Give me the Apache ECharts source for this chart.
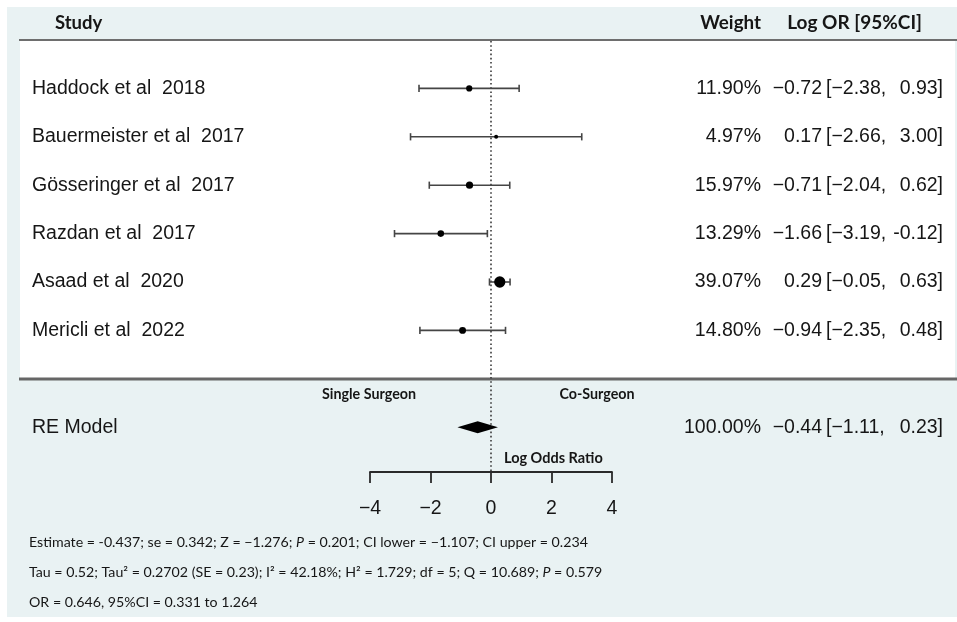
<!DOCTYPE html>
<html>
<head>
<meta charset="utf-8">
<script src="https://cdn.jsdelivr.net/npm/echarts@6/dist/echarts.min.js"></script>
<style>
  html, body { margin: 0; padding: 0; background: #ffffff; }
  #chart { width: 957px; height: 622px; }
</style>
</head>
<body>
<div id="chart"></div>
<script>
// Study-level results (log odds ratio, 95% CI, random-effects weight)
const studies = [
  'Haddock et al  2018',
  'Bauermeister et al  2017',
  'Gösseringer et al  2017',
  'Razdan et al  2017',
  'Asaad et al  2020',
  'Mericli et al  2022'
];
const weights = [11.90, 4.97, 15.97, 13.29, 39.07, 14.80];
const logOR   = [-0.72, 0.17, -0.71, -1.66, 0.29, -0.94];
const ciLower = [-2.38, -2.66, -2.04, -3.19, -0.05, -2.35];
const ciUpper = [0.93, 3.00, 0.62, -0.12, 0.63, 0.48];

// Pooled random-effects estimate
const pooledLabel = 'RE Model';
const pooledWeight = [100.00];
const pooledLogOR = [-0.44];
const pooledLower = [-1.11];
const pooledUpper = [0.23];

// Axis ticks
const xTicks = [-4, -2, 0, 2, 4];

// Summary statistics printed below the plot
const footLines = [
  'Estimate = -0.437; se = 0.342; Z = \u22121.276; {i|P} = 0.201; CI lower = \u22121.107; CI upper = 0.234',
  'Tau = 0.52; Tau\u00b2 = 0.2702 (SE = 0.23); I\u00b2 = 42.18%; H\u00b2 = 1.729; df = 5; Q = 10.689; {i|P} = 0.579',
  'OR = 0.646, 95%CI = 0.331 to 1.264'
];

// ---- layout ----
const ROW_H = 48.4;
const GRID_TOP = 40;
const GRID_H = 432;
const ROW_MAX = GRID_H / ROW_H;
const POOLED_ROW = studies.length + 2;

const BG = '#e9f2f3';
const TXT = '#161616';
const MONO = '"Liberation Sans", Arial, sans-serif';
const HEAD = 'Lato, "Open Sans", sans-serif';
const FS = 19.5;
const rowFont = FS + 'px ' + MONO;
const FOOT_FS = 14.2;

const minus = v => (v < 0 ? '\u2212' : '') + Math.abs(v).toFixed(2);
const upperFmt = v => (v < 0 ? '-' : '') + Math.abs(v).toFixed(2);

const rowData = studies.map((s, i) => [i + 1, logOR[i], ciLower[i], ciUpper[i], weights[i]]);
const pooledData = [[POOLED_ROW, pooledLogOR[0], pooledLower[0], pooledUpper[0], pooledWeight[0]]];

function textEl(text, x, y, align) {
  return {
    type: 'text',
    style: { text: text, x: x, y: y, fill: TXT, font: rowFont, align: align, verticalAlign: 'middle' }
  };
}

const chart = echarts.init(document.getElementById('chart'), null, { renderer: 'canvas' });

chart.setOption({
  backgroundColor: '#ffffff',
  animation: false,
  grid: { left: 370, width: 242, top: GRID_TOP, height: GRID_H, containLabel: false },
  xAxis: {
    type: 'value',
    position: 'bottom',
    min: xTicks[0],
    max: xTicks[xTicks.length - 1],
    interval: xTicks[1] - xTicks[0],
    axisLine: { show: true, onZero: false, lineStyle: { color: '#2a2a2a', width: 1.8 } },
    axisTick: { show: true, length: 11, lineStyle: { color: '#2a2a2a', width: 1.8 } },
    axisLabel: {
      formatter: v => (v < 0 ? '\u2212' : '') + Math.abs(v),
      fontSize: FS, fontFamily: MONO, color: TXT, margin: 27
    },
    splitLine: { show: false }
  },
  yAxis: {
    type: 'value', inverse: true, min: 0, max: ROW_MAX, show: false
  },
  graphic: [
    // page panels
    { type: 'rect', z: 0, shape: { x: 7, y: 7, width: 950, height: 610 }, style: { fill: BG } },
    { type: 'rect', z: 0, shape: { x: 20, y: 41, width: 935, height: 337 }, style: { fill: '#ffffff' } },
    { type: 'rect', z: 0, shape: { x: 19, y: 39, width: 938, height: 2 }, style: { fill: '#6e6e6e' } },
    { type: 'rect', z: 0, shape: { x: 19, y: 377.5, width: 938, height: 3 }, style: { fill: '#666666' } },
    // column headers
    { type: 'text', z: 1, style: { text: 'Study', x: 55, y: 23, font: 'bold 18.5px ' + HEAD, fill: TXT, verticalAlign: 'middle' } },
    { type: 'text', z: 1, style: { text: 'Weight', x: 761, y: 23, font: 'bold 18.8px ' + HEAD, fill: TXT, align: 'right', verticalAlign: 'middle' } },
    { type: 'text', z: 1, style: { text: 'Log OR [95%CI]', x: 922, y: 23, font: 'bold 19px ' + HEAD, fill: TXT, align: 'right', verticalAlign: 'middle' } },
    // direction labels and axis title
    { type: 'text', z: 1, style: { text: 'Single Surgeon', x: 369, y: 394, font: 'bold 14.3px ' + HEAD, fill: TXT, align: 'center', verticalAlign: 'middle' } },
    { type: 'text', z: 1, style: { text: 'Co-Surgeon', x: 597, y: 394, font: 'bold 14.3px ' + HEAD, fill: TXT, align: 'center', verticalAlign: 'middle' } },
    { type: 'text', z: 1, style: { text: 'Log Odds Ratio', x: 504, y: 458, font: 'bold 14.5px ' + HEAD, fill: TXT, verticalAlign: 'middle' } },
    // summary statistics
    ...footLines.map((t, i) => ({
      type: 'text', z: 1,
      style: {
        text: t, x: 29, y: 542 + i * 30, fill: TXT, verticalAlign: 'middle',
        font: FOOT_FS + 'px ' + HEAD,
        rich: { i: { fontStyle: 'italic', fontFamily: HEAD, fontSize: FOOT_FS, fill: TXT } }
      }
    }))
  ],
  series: [
    {
      // vertical reference line at zero effect
      type: 'custom',
      z: 3,
      silent: true,
      data: [[0]],
      encode: { x: 0 },
      renderItem: (params, api) => {
        const top = api.coord([0, 0]);
        const bot = api.coord([0, ROW_MAX]);
        return {
          type: 'line',
          shape: { x1: top[0], y1: top[1] + 1, x2: bot[0], y2: bot[1] },
          style: { stroke: '#3a3a3a', lineWidth: 1.6, lineDash: [1.6, 2.6] }
        };
      }
    },
    {
      // study confidence intervals with weight-scaled points
      type: 'custom',
      z: 4,
      silent: true,
      clip: false,
      data: rowData,
      encode: { y: 0, x: [1, 2, 3] },
      renderItem: (params, api) => {
        const row = api.value(0);
        const c = api.coord([api.value(1), row]);
        const lo = api.coord([api.value(2), row]);
        const hi = api.coord([api.value(3), row]);
        const r = 0.9 * Math.sqrt(api.value(4));
        const st = { stroke: '#454545', lineWidth: 1.6 };
        return {
          type: 'group',
          children: [
            { type: 'line', shape: { x1: lo[0], y1: c[1], x2: hi[0], y2: c[1] }, style: st },
            { type: 'line', shape: { x1: lo[0], y1: c[1] - 3.6, x2: lo[0], y2: c[1] + 3.6 }, style: st },
            { type: 'line', shape: { x1: hi[0], y1: c[1] - 3.6, x2: hi[0], y2: c[1] + 3.6 }, style: st },
            { type: 'circle', shape: { cx: c[0], cy: c[1], r: r }, style: { fill: '#000000' } }
          ]
        };
      }
    },
    {
      // pooled estimate diamond
      type: 'custom',
      z: 4,
      silent: true,
      clip: false,
      data: pooledData,
      encode: { y: 0, x: [1, 2, 3] },
      renderItem: (params, api) => {
        const row = api.value(0);
        const c = api.coord([api.value(1), row]);
        const lo = api.coord([api.value(2), row]);
        const hi = api.coord([api.value(3), row]);
        return {
          type: 'polygon',
          shape: { points: [[lo[0], c[1]], [c[0], c[1] - 6], [hi[0], c[1]], [c[0], c[1] + 6]] },
          style: { fill: '#000000' }
        };
      }
    },
    {
      // row annotations: study name, weight, estimate and interval
      type: 'custom',
      z: 5,
      silent: true,
      clip: false,
      data: rowData.map((d, i) => d.concat([i])).concat(pooledData.map(d => d.concat([-1]))),
      encode: { y: 0 },
      renderItem: (params, api) => {
        const idx = api.value(5);
        const y = api.coord([0, api.value(0)])[1];
        const name = idx >= 0 ? studies[idx] : pooledLabel;
        return {
          type: 'group',
          children: [
            textEl(name, 32, y, 'left'),
            textEl(api.value(4).toFixed(2) + '%', 761, y, 'right'),
            textEl(minus(api.value(1)), 822, y, 'right'),
            textEl('[' + minus(api.value(2)) + ',', 826, y, 'left'),
            textEl(upperFmt(api.value(3)) + ']', 943, y, 'right')
          ]
        };
      }
    }
  ]
});
</script>
</body>
</html>
